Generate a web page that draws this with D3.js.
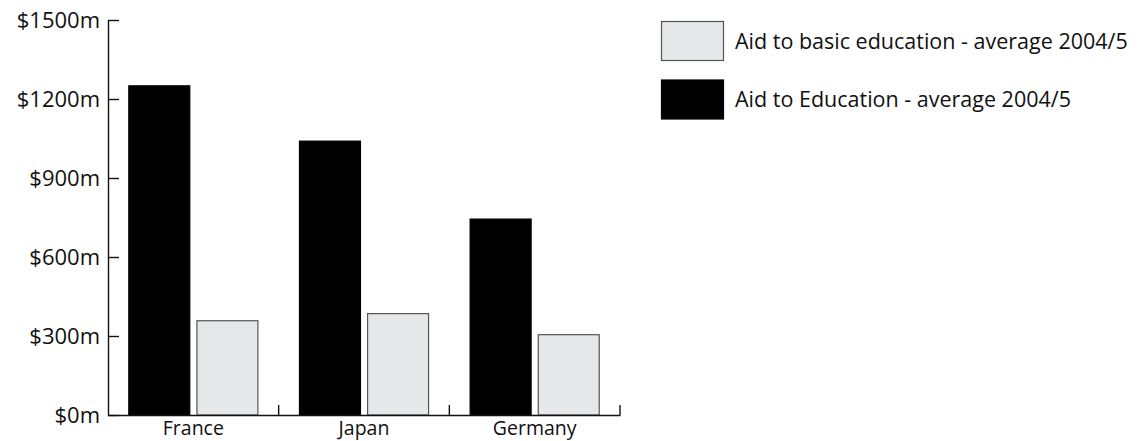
<!DOCTYPE html>
<html>
<head>
<meta charset="utf-8">
<script src="https://cdn.jsdelivr.net/npm/d3@7"></script>
<style>
  body { margin: 0; background: #fff; }
  svg { display: block; font-family: "Open Sans", "Noto Sans", sans-serif; }
  .axis text { font-family: "Open Sans", "Noto Sans", sans-serif; font-size: 22px; fill: #111; }
  .axis.x-axis text { font-size: 19.5px; }
  .axis path, .axis line { stroke: #111; stroke-width: 1.4; }
  .legend text { font-size: 21.5px; fill: #111; }
</style>
</head>
<body>
<svg id="chart" width="1141" height="441"></svg>
<script>
"use strict";

// countries on the x axis
const countries = ["France", "Japan", "Germany"];
// series, in the order drawn inside each group
const seriesNames = ["Aid to Education - average 2004/5", "Aid to basic education - average 2004/5"];
// values in $m
const aidEducation = [1250, 1040, 744];
const aidBasic = [358, 385, 305];
// y axis ticks
const yTicks = [0, 300, 600, 900, 1200, 1500];
// legend order as shown on the right
const legendOrder = ["Aid to basic education - average 2004/5", "Aid to Education - average 2004/5"];

const fills = { [seriesNames[0]]: "#000000", [seriesNames[1]]: "#e6e7e8" };
const strokes = { [seriesNames[0]]: "#000000", [seriesNames[1]]: "#555555" };

const svg = d3.select("#chart");
const plotLeft = 108, plotRight = 620, plotTop = 20, plotBottom = 415;

const rows = countries.map((c, i) => ({
  country: c,
  values: [
    { key: seriesNames[0], value: aidEducation[i] },
    { key: seriesNames[1], value: aidBasic[i] }
  ]
}));

const x0 = d3.scaleBand().domain(countries).range([plotLeft, plotRight]).padding(0);
const x1 = d3.scaleBand().domain(seriesNames).range([20.3, 150.4]).paddingInner(0.09);
const y = d3.scaleLinear().domain([0, 1500]).range([plotBottom, plotTop]);

// bars
const groups = svg.append("g").selectAll("g")
  .data(rows)
  .enter()
  .append("g")
  .attr("transform", d => "translate(" + x0(d.country) + ",0)");

groups.selectAll("rect")
  .data(d => d.values)
  .enter()
  .append("rect")
  .attr("x", d => x1(d.key) + 0.5)
  .attr("width", x1.bandwidth() - 1)
  .attr("y", d => y(d.value))
  .attr("height", d => y(0) - y(d.value))
  .attr("fill", d => fills[d.key])
  .attr("stroke", d => strokes[d.key])
  .attr("stroke-width", 1.2);

// y axis, ticks pointing inward
svg.append("g")
  .attr("class", "axis")
  .attr("transform", "translate(" + plotLeft + ",0)")
  .call(d3.axisLeft(y)
    .tickValues(yTicks)
    .tickSizeInner(-11)
    .tickSizeOuter(0)
    .tickPadding(8)
    .tickFormat(d => "$" + d + "m"));

// x axis baseline and labels
const xAxis = svg.append("g")
  .attr("class", "axis x-axis")
  .attr("transform", "translate(0," + plotBottom + ")")
  .call(d3.axisBottom(x0).tickSize(0).tickSizeOuter(0).tickPadding(6.5));

// tick marks at the band boundaries, pointing up
xAxis.selectAll("line.sep")
  .data(countries)
  .enter()
  .append("line")
  .attr("class", "sep")
  .attr("x1", d => x0(d) + x0.bandwidth())
  .attr("x2", d => x0(d) + x0.bandwidth())
  .attr("y1", 0)
  .attr("y2", -10);

// legend
const legend = svg.append("g")
  .attr("class", "legend")
  .attr("transform", "translate(661,21)");

const item = legend.selectAll("g")
  .data(legendOrder)
  .enter()
  .append("g")
  .attr("transform", (d, i) => "translate(0," + i * 58.5 + ")");

item.append("rect")
  .attr("x", 0.5)
  .attr("y", 0.5)
  .attr("width", 62)
  .attr("height", 39)
  .attr("fill", d => fills[d])
  .attr("stroke", d => strokes[d])
  .attr("stroke-width", 1.2);

item.append("text")
  .attr("x", 74)
  .attr("y", 20)
  .attr("dy", "0.35em")
  .text(d => d);
</script>
</body>
</html>
